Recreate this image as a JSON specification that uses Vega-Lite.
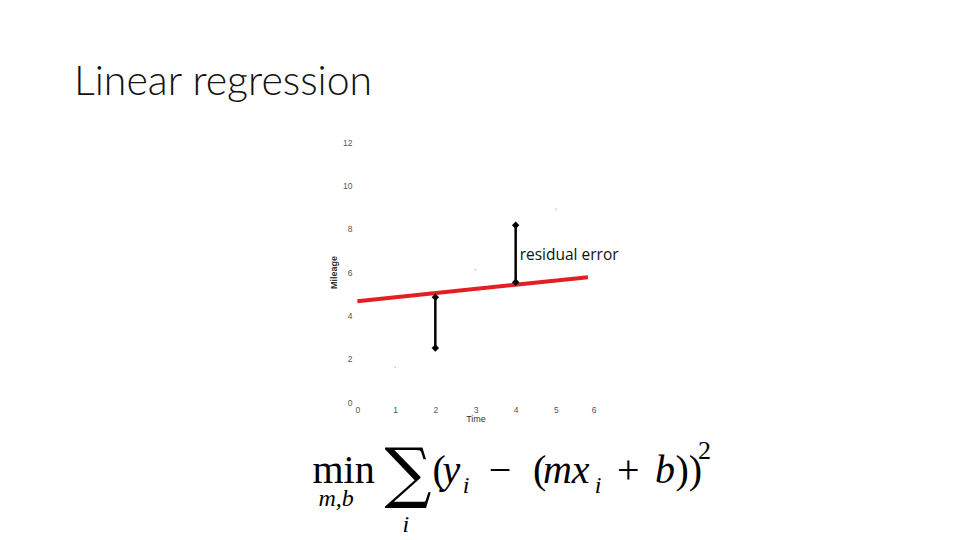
{
  "$schema": "https://vega.github.io/schema/vega-lite/v6.json",
  "width": 241,
  "height": 260,
  "autosize": {"type": "none"},
  "padding": {"left": 355, "top": 142, "right": 364, "bottom": 138},
  "background": "white",
  "title": {"text": "Linear regression", "anchor": "start", "frame": "group", "dx": -281, "offset": 34, "fontSize": 41, "font": "Lato", "fontWeight": 300, "color": "#111111"},
  "config": {
    "view": {"stroke": null},
    "axis": {"domain": false, "ticks": false, "grid": false, "labelFont": "Liberation Sans", "labelFontSize": 8.5, "labelColor": "#555555", "titleFont": "Liberation Sans", "titleFontSize": 9, "titleColor": "#333333", "titleFontWeight": "normal"}
  },
  "datasets": {
    "scatter": [{"x": 1, "y": 1.6}, {"x": 3, "y": 6.1}, {"x": 5, "y": 8.9}],
    "fit": [{"x": 0.06, "y": 4.65}, {"x": 5.8, "y": 5.76}],
    "residuals": [{"x": 2, "y": 4.84, "y2": 2.49}, {"x": 4, "y": 8.16, "y2": 5.53}],
    "label": [{"x": 4.1, "y": 6.77, "text": "residual error"}],
    "romanBig": [
      {"x": -1.06, "y": -3.73, "text": "min"},
      {"x": 1.93, "y": -3.73, "text": "("},
      {"x": 3.33, "y": -3.73, "text": "−"},
      {"x": 4.43, "y": -3.73, "text": "("},
      {"x": 6.52, "y": -3.73, "text": "+"},
      {"x": 7.98, "y": -3.73, "text": "))"}
    ],
    "italicBig": [
      {"x": 2.18, "y": -3.73, "text": "y"},
      {"x": 4.68, "y": -3.73, "text": "mx"},
      {"x": 7.47, "y": -3.73, "text": "b"}
    ],
    "italicSmall": [
      {"x": -0.91, "y": -4.78, "text": "m,b"},
      {"x": 1.18, "y": -5.99, "text": "i"},
      {"x": 2.68, "y": -4.19, "text": "i"},
      {"x": 5.97, "y": -4.19, "text": "i"}
    ],
    "romanSmall": [{"x": 8.54, "y": -2.62, "text": "2"}],
    "sigma": [{"x": 0.736, "y": -4.28, "text": "∑"}]
  },
  "encoding": {
    "x": {"field": "x", "type": "quantitative", "scale": {"domain": [0, 6], "nice": false, "zero": false}, "axis": {"title": "Time", "values": [0, 1, 2, 3, 4, 5, 6], "labelPadding": 3, "titlePadding": 1}},
    "y": {"field": "y", "type": "quantitative", "scale": {"domain": [0, 12], "nice": false, "zero": false}, "axis": {"title": "Mileage", "values": [0, 2, 4, 6, 8, 10, 12], "labelPadding": 3, "titlePadding": 4, "titleFontWeight": "bold"}}
  },
  "layer": [
    {"data": {"name": "scatter"}, "mark": {"type": "point", "filled": true, "size": 4, "color": "#bbbbbb", "clip": false}},
    {"data": {"name": "fit"}, "mark": {"type": "line", "color": "#e31e24", "strokeWidth": 4, "clip": false}},
    {"data": {"name": "residuals"}, "mark": {"type": "rule", "color": "#000000", "strokeWidth": 2.5}, "encoding": {"y2": {"field": "y2"}}},
    {"data": {"name": "residuals"}, "mark": {"type": "point", "shape": "diamond", "filled": true, "size": 55, "color": "#000000", "opacity": 1}},
    {"data": {"name": "residuals"}, "mark": {"type": "point", "shape": "diamond", "filled": true, "size": 55, "color": "#000000", "opacity": 1}, "encoding": {"y": {"field": "y2", "type": "quantitative"}}},
    {"data": {"name": "label"}, "mark": {"type": "text", "align": "left", "baseline": "middle", "font": "Open Sans", "fontSize": 15.5, "color": "#111111", "clip": false}, "encoding": {"text": {"field": "text"}}},
    {"data": {"name": "romanBig"}, "mark": {"type": "text", "align": "left", "baseline": "alphabetic", "font": "Liberation Serif", "fontSize": 40, "color": "#000000", "clip": false}, "encoding": {"text": {"field": "text"}}},
    {"data": {"name": "italicBig"}, "mark": {"type": "text", "align": "left", "baseline": "alphabetic", "font": "Liberation Serif", "fontStyle": "italic", "fontSize": 40, "color": "#000000", "clip": false}, "encoding": {"text": {"field": "text"}}},
    {"data": {"name": "italicSmall"}, "mark": {"type": "text", "align": "left", "baseline": "alphabetic", "font": "Liberation Serif", "fontStyle": "italic", "fontSize": 24, "color": "#000000", "clip": false}, "encoding": {"text": {"field": "text"}}},
    {"data": {"name": "romanSmall"}, "mark": {"type": "text", "align": "left", "baseline": "alphabetic", "font": "Liberation Serif", "fontSize": 26, "color": "#000000", "clip": false}, "encoding": {"text": {"field": "text"}}},
    {"data": {"name": "sigma"}, "mark": {"type": "text", "align": "left", "baseline": "alphabetic", "font": "DejaVu Serif", "fontSize": 66, "color": "#000000", "clip": false}, "encoding": {"text": {"field": "text"}}}
  ]
}
